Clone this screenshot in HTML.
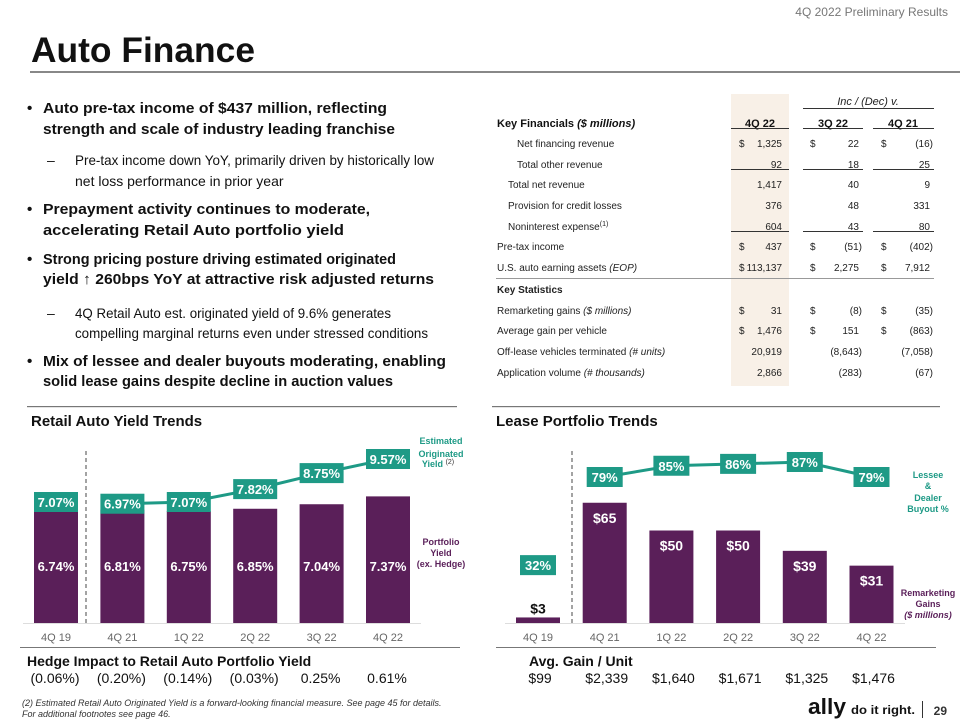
<!DOCTYPE html>
<html><head><meta charset="utf-8"><style>
body{margin:0;width:960px;height:720px;overflow:hidden;background:#fff;font-family:"Liberation Sans",sans-serif}
svg text{font-family:"Liberation Sans",sans-serif}
</style></head><body>
<svg id="s" width="960" height="720" viewBox="0 0 960 720">
<text x="948" y="16" font-size="12" fill="#777" text-anchor="end">4Q 2022 Preliminary Results</text>
<text x="31" y="62" font-size="35" font-weight="bold" fill="#111" textLength="224" lengthAdjust="spacingAndGlyphs">Auto Finance</text>
<rect x="30" y="71" width="930" height="2" fill="#888"/>
<g fill="#111">
<text x="27" y="113" font-size="15" font-weight="bold">•</text>
<text x="43" y="113" font-size="15" font-weight="bold" textLength="344" lengthAdjust="spacingAndGlyphs">Auto pre-tax income of $437 million, reflecting</text>
<text x="43" y="134" font-size="15" font-weight="bold" textLength="352" lengthAdjust="spacingAndGlyphs">strength and scale of industry leading franchise</text>
<text x="47" y="165" font-size="14">–</text>
<text x="75" y="165" font-size="14" textLength="359" lengthAdjust="spacingAndGlyphs">Pre-tax income down YoY, primarily driven by historically low</text>
<text x="75" y="186" font-size="14">net loss performance in prior year</text>
<text x="27" y="214" font-size="15" font-weight="bold">•</text>
<text x="43" y="214" font-size="15" font-weight="bold" textLength="327" lengthAdjust="spacingAndGlyphs">Prepayment activity continues to moderate,</text>
<text x="43" y="235" font-size="15" font-weight="bold" textLength="301" lengthAdjust="spacingAndGlyphs">accelerating Retail Auto portfolio yield</text>
<text x="27" y="264" font-size="15" font-weight="bold">•</text>
<text x="43" y="264" font-size="15" font-weight="bold" textLength="353" lengthAdjust="spacingAndGlyphs">Strong pricing posture driving estimated originated</text>
<text x="43" y="284" font-size="15" font-weight="bold" textLength="391" lengthAdjust="spacingAndGlyphs">yield ↑ 260bps YoY at attractive risk adjusted returns</text>
<text x="47" y="318" font-size="14">–</text>
<text x="75" y="318" font-size="14" textLength="316" lengthAdjust="spacingAndGlyphs">4Q Retail Auto est. originated yield of 9.6% generates</text>
<text x="75" y="338" font-size="14" textLength="353" lengthAdjust="spacingAndGlyphs">compelling marginal returns even under stressed conditions</text>
<text x="27" y="366" font-size="15" font-weight="bold">•</text>
<text x="43" y="366" font-size="15" font-weight="bold" textLength="403" lengthAdjust="spacingAndGlyphs">Mix of lessee and dealer buyouts moderating, enabling</text>
<text x="43" y="386" font-size="15" font-weight="bold" textLength="350" lengthAdjust="spacingAndGlyphs">solid lease gains despite decline in auction values</text>
</g>
<g id="table"></g>
<rect x="27" y="406" width="430" height="1.2" fill="#777"/>
<rect x="492" y="406" width="448" height="1.2" fill="#777"/>
<text x="31" y="426" font-size="15" font-weight="bold" fill="#111">Retail Auto Yield Trends</text>
<text x="496" y="426" font-size="15" font-weight="bold" fill="#111">Lease Portfolio Trends</text>
<g id="left"></g>
<g id="right"></g>
<text x="27" y="666" font-size="14" font-weight="bold" fill="#111">Hedge Impact to Retail Auto Portfolio Yield</text>
<text x="529" y="666" font-size="14" font-weight="bold" fill="#111">Avg. Gain / Unit</text>
<text x="22" y="706" font-size="9" font-style="italic" fill="#333">(2)      Estimated Retail Auto Originated Yield is a forward-looking financial measure. See page 45 for details.</text>
<text x="22" y="717" font-size="9" font-style="italic" fill="#333">For additional footnotes see page 46.</text>
<text x="808" y="714" font-size="22" font-weight="bold" fill="#111" textLength="38" lengthAdjust="spacingAndGlyphs">ally</text>
<text x="851" y="714" font-size="12" font-weight="bold" fill="#111" textLength="64" lengthAdjust="spacingAndGlyphs">do it right.</text>
<rect x="922" y="701" width="1" height="17" fill="#333"/>
<text x="947" y="715" font-size="12" font-weight="bold" fill="#333" text-anchor="end">29</text>
</svg>
<script>
const NS='http://www.w3.org/2000/svg';
function mk(p,tag,at,txt){const e=document.createElementNS(NS,tag);for(const k in at)e.setAttribute(k,at[k]);if(txt!==undefined)e.textContent=txt;p.appendChild(e);return e;}
const TEAL='#1e9a86',PURP='#5a1f59';

// ---- table data
const rowLabels=['Net financing revenue','Total other revenue','Total net revenue','Provision for credit losses','Noninterest expense','Pre-tax income','U.S. auto earning assets','Key Statistics','Remarketing gains','Average gain per vehicle','Off-lease vehicles terminated','Application volume'];
const rowItalic=['','','','','','','(EOP)','','($ millions)','','(# units)','(# thousands)'];
const col4Q22=['1,325','92','1,417','376','604','437','113,137','','31','1,476','20,919','2,866'];
const col3Q22=['22','18','40','48','43','(51)','2,275','','(8)','151','(8,643)','(283)'];
const col4Q21=['(16)','25','9','331','80','(402)','7,912','','(35)','(863)','(7,058)','(67)'];
const dollarRows=[0,5,6,8,9];
const T=document.getElementById('table');
mk(T,'rect',{x:731,y:94,width:58,height:292,fill:'#f8f0e7'});
mk(T,'text',{x:868,y:105,'font-size':11,'font-style':'italic','text-anchor':'middle',fill:'#222'},'Inc / (Dec) v.');
mk(T,'rect',{x:803,y:108,width:131,height:1,fill:'#333'});
const hd=mk(T,'text',{x:497,y:127,'font-size':11,'font-weight':'bold',fill:'#111'},'Key Financials ');
mk(hd,'tspan',{'font-style':'italic'},'($ millions)');
[['4Q 22',760],['3Q 22',833],['4Q 21',903]].forEach(h=>mk(T,'text',{x:h[1],y:127,'font-size':11,'font-weight':'bold','text-anchor':'middle',fill:'#111'},h[0]));
[[731,58],[803,60],[873,61]].forEach(c=>{[128,169,231].forEach(y=>mk(T,'rect',{x:c[0],y:y,width:c[1],height:1,fill:'#333'}));});
mk(T,'rect',{x:496,y:278,width:438,height:1,fill:'#999'});
const rowY=[147,168,188,209,230,250,271,293,314,334,355,376];
const indent=[517,517,508,508,508,497,497,497,497,497,497,497];
rowLabels.forEach((l,i)=>{
 const t=mk(T,'text',{x:indent[i],y:rowY[i],'font-size':10,fill:'#222','font-weight':i==7?'bold':'normal'},l);
 if(i==4)mk(t,'tspan',{'font-size':7,dy:-4},'(1)');
 if(rowItalic[i])mk(t,'tspan',{'font-style':'italic'},' '+rowItalic[i]);
 if(dollarRows.includes(i)){[739,810,881].forEach(x=>mk(T,'text',{x:x,y:rowY[i],'font-size':10,fill:'#222'},'$'));}
 [[col4Q22,785],[col3Q22,862],[col4Q21,933]].forEach(c=>{let v=c[0][i];if(!v)return;let x=c[1];if(v[0]!='(')x-=3;mk(T,'text',{x:x,y:rowY[i],'font-size':10,fill:'#222','text-anchor':'end'},v);});
});

// ---- left chart data
const qLabels=['4Q 19','4Q 21','1Q 22','2Q 22','3Q 22','4Q 22'];
const portfolioYield=[6.74,6.81,6.75,6.85,7.04,7.37];
const originatedYield=[7.07,6.97,7.07,7.82,8.75,9.57];
const hedgeImpact=['(0.06%)','(0.20%)','(0.14%)','(0.03%)','0.25%','0.61%'];
const L=document.getElementById('left');
const lx=i=>56+i*66.4, base=623;
const lyBar=v=>base-(v-2.05)*23.8;
const lyLine=v=>502-(v-7.07)*17.2;
mk(L,'line',{x1:23,x2:421,y1:base+0.5,y2:base+0.5,stroke:'#ddd','stroke-width':1});
mk(L,'line',{x1:86,x2:86,y1:451,y2:623,stroke:'#666','stroke-width':1.2,'stroke-dasharray':'4,3'});
let pts=originatedYield.map((v,i)=>lx(i)+','+lyLine(v)).slice(1).join(' ');
const pl=mk(L,'polyline',{points:pts,fill:'none',stroke:TEAL,'stroke-width':3});


portfolioYield.forEach((v,i)=>{
 const r=mk(L,'rect',{x:lx(i)-22,y:lyBar(v),width:44,height:base-lyBar(v),fill:PURP});
 
 
 mk(L,'text',{x:lx(i),y:571,'font-size':13,'font-weight':'bold',fill:'#fff','text-anchor':'middle'},v.toFixed(2)+'%');
 mk(L,'text',{x:lx(i),y:641,'font-size':11,fill:'#666','text-anchor':'middle'},qLabels[i]);
 mk(L,'text',{x:lx(i)-1,y:683,'font-size':14,fill:'#111','text-anchor':'middle'},hedgeImpact[i]);
});
originatedYield.forEach((v,i)=>{
 const y=lyLine(v);
 const b=mk(L,'rect',{x:lx(i)-22,y:y-10,width:44,height:20,fill:TEAL});
 
 
 mk(L,'text',{x:lx(i),y:y+5,'font-size':13,'font-weight':'bold',fill:'#fff','text-anchor':'middle'},v.toFixed(2)+'%');
});
mk(L,'rect',{x:20,y:647,width:440,height:1,fill:'#777'});
[['Estimated',444],['Originated',457]].forEach(a=>mk(L,'text',{x:441,y:a[1],'font-size':9,'font-weight':'bold',fill:TEAL,'text-anchor':'middle'},a[0]));
const yl=mk(L,'text',{x:438,y:467,'font-size':9,'font-weight':'bold',fill:TEAL,'text-anchor':'middle'},'Yield ');
mk(yl,'tspan',{'font-size':7,dy:-3,'font-weight':'normal',fill:'#333'},'(2)');
[['Portfolio',545],['Yield',556],['(ex. Hedge)',567]].forEach(a=>mk(L,'text',{x:441,y:a[1],'font-size':9,'font-weight':'bold',fill:PURP,'text-anchor':'middle'},a[0]));

// ---- right chart data
const remarketingGains=[3,65,50,50,39,31];
const buyoutPct=[32,79,85,86,87,79];
const avgGain=['$99','$2,339','$1,640','$1,671','$1,325','$1,476'];
const R=document.getElementById('right');
const rx=i=>538+i*66.7;
const ryBar=v=>base-v*1.85;
const ryLine=v=>477-(v-79)*1.875;
mk(R,'line',{x1:505,x2:905,y1:base+0.5,y2:base+0.5,stroke:'#ddd','stroke-width':1});
mk(R,'line',{x1:572,x2:572,y1:451,y2:623,stroke:'#666','stroke-width':1.2,'stroke-dasharray':'4,3'});
const rl=mk(R,'polyline',{points:buyoutPct.map((v,i)=>rx(i)+','+ryLine(v)).slice(1).join(' '),fill:'none',stroke:TEAL,'stroke-width':3});


remarketingGains.forEach((v,i)=>{
 const y=ryBar(v);
 const r=mk(R,'rect',{x:rx(i)-22,y:y,width:44,height:base-y,fill:PURP});
 
 
 if(i==0)mk(R,'text',{x:rx(i),y:y-4,'font-size':14,'font-weight':'bold',fill:'#111','text-anchor':'middle'},'$'+v);
 else mk(R,'text',{x:rx(i),y:y+20,'font-size':14,'font-weight':'bold',fill:'#fff','text-anchor':'middle'},'$'+v);
 mk(R,'text',{x:rx(i),y:641,'font-size':11,fill:'#666','text-anchor':'middle'},qLabels[i]);
 mk(R,'text',{x:rx(i)+2,y:683,'font-size':14,fill:'#111','text-anchor':'middle'},avgGain[i]);
});
buyoutPct.forEach((v,i)=>{
 const y=ryLine(v);
 const b=mk(R,'rect',{x:rx(i)-18,y:y-10,width:36,height:20,fill:TEAL});
 
 
 mk(R,'text',{x:rx(i),y:y+5,'font-size':13,'font-weight':'bold',fill:'#fff','text-anchor':'middle'},v+'%');
});
mk(R,'rect',{x:496,y:647,width:440,height:1,fill:'#777'});
[['Lessee',478],['&',489],['Dealer',501],['Buyout %',512]].forEach(a=>mk(R,'text',{x:928,y:a[1],'font-size':9,'font-weight':'bold',fill:TEAL,'text-anchor':'middle'},a[0]));
[['Remarketing',596,''],['Gains',607,''],['($ millions)',618,'italic']].forEach(a=>mk(R,'text',{x:928,y:a[1],'font-size':9,'font-weight':'bold','font-style':a[2],fill:PURP,'text-anchor':'middle'},a[0]));
</script>
</body></html>
